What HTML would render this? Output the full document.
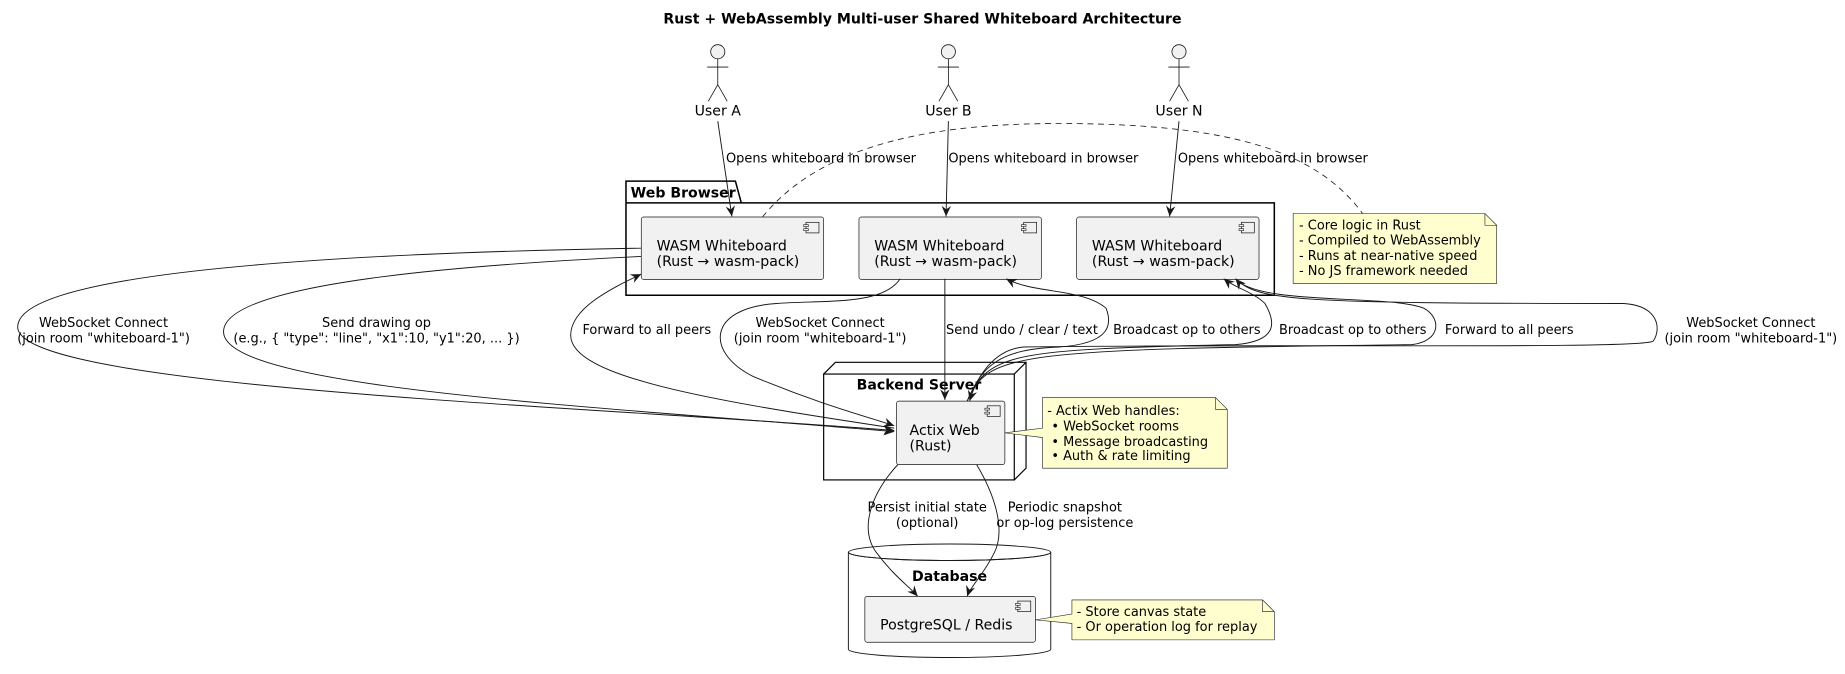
<!DOCTYPE html>
<html><head><meta charset="utf-8"><style>
html,body{margin:0;padding:0;background:#fff;}
svg{display:block;}
text{font-family:"DejaVu Sans","Liberation Sans",sans-serif;fill:#000;}
.l{font-size:11px;}
.c{font-size:12px;}
.b{font-size:12px;font-weight:bold;}
</style></head><body>
<svg width="1845" height="674" viewBox="0 0 1568 573" preserveAspectRatio="none" xmlns="http://www.w3.org/2000/svg">
<defs>
<marker id="a" markerWidth="10" markerHeight="10" refX="9" refY="5" orient="auto" markerUnits="userSpaceOnUse">
<path d="M0,1 L9,5 L0,9 L3,5 Z" fill="#181818"/>
</marker>
<g id="ci"><rect x="0" y="0" width="11" height="9" fill="#f1f1f1" stroke="#181818" stroke-width="0.6"/><rect x="-2" y="2" width="4" height="1.6" fill="#f1f1f1" stroke="#181818" stroke-width="0.5"/><rect x="-2" y="5.4" width="4" height="1.6" fill="#f1f1f1" stroke="#181818" stroke-width="0.5"/></g>
</defs>

<text x="784" y="20" class="b" text-anchor="middle">Rust + WebAssembly Multi-user Shared Whiteboard Architecture</text>

<!-- actors -->
<g stroke="#181818" stroke-width="0.7" fill="#f1f1f1">
<circle cx="610" cy="44" r="6"/><path d="M610,50 V72 M601,57 H619 M610,72 L602,86 M610,72 L618,86" fill="none"/>
<circle cx="806" cy="44" r="6"/><path d="M806,50 V72 M797,57 H815 M806,72 L798,86 M806,72 L814,86" fill="none"/>
<circle cx="1002" cy="44" r="6"/><path d="M1002,50 V72 M993,57 H1011 M1002,72 L994,86 M1002,72 L1010,86" fill="none"/>
</g>
<text x="610" y="98" class="c" text-anchor="middle">User A</text>
<text x="806" y="98" class="c" text-anchor="middle">User B</text>
<text x="1002" y="98" class="c" text-anchor="middle">User N</text>

<!-- package -->
<path d="M532,172.5 V154 H625 L630,172.5 H1083 V251 H532 Z" fill="none" stroke="#000" stroke-width="1.3"/>
<line x1="532" y1="172.5" x2="630" y2="172.5" stroke="#000" stroke-width="1.3"/>
<text x="536" y="168" class="b">Web Browser</text>

<g stroke="#181818" stroke-width="0.6" fill="#f1f1f1">
<rect x="545" y="184.5" width="155" height="53" rx="2"/>
<rect x="730" y="184.5" width="155" height="53" rx="2"/>
<rect x="915" y="184.5" width="155" height="53" rx="2"/>
</g>
<use href="#ci" x="685" y="189"/><use href="#ci" x="870" y="189"/><use href="#ci" x="1055" y="189"/>
<text class="c"><tspan x="558" y="213">WASM Whiteboard</tspan><tspan x="558" y="226">(Rust → wasm-pack)</tspan></text>
<text class="c"><tspan x="743" y="213">WASM Whiteboard</tspan><tspan x="743" y="226">(Rust → wasm-pack)</tspan></text>
<text class="c"><tspan x="928" y="213">WASM Whiteboard</tspan><tspan x="928" y="226">(Rust → wasm-pack)</tspan></text>

<!-- note 1 -->
<path d="M1099,181.5 H1262 L1272,191.5 V241 H1099 Z" fill="#fefece" stroke="#181818" stroke-width="0.5"/>
<path d="M1262,181.5 V191.5 H1272" fill="none" stroke="#181818" stroke-width="0.5"/>
<text class="l"><tspan x="1104" y="195">- Core logic in Rust</tspan><tspan x="1104" y="208">- Compiled to WebAssembly</tspan><tspan x="1104" y="221">- Runs at near-native speed</tspan><tspan x="1104" y="234">- No JS framework needed</tspan></text>
<path d="M648,184.5 C700,120 800,105 900,105 C1050,105 1120,130 1158,181.5" fill="none" stroke="#181818" stroke-width="0.7" stroke-dasharray="5,4"/>

<!-- backend node -->
<path d="M700,318 L710,308 H872 V398 L862,408" fill="none" stroke="#000" stroke-width="1"/>
<line x1="862" y1="318" x2="872" y2="308" stroke="#000" stroke-width="1"/>
<rect x="700" y="318" width="162" height="90" fill="none" stroke="#000" stroke-width="1"/>
<text x="781" y="331" class="b" text-anchor="middle">Backend Server</text>
<rect x="762" y="341" width="92" height="54" rx="2" fill="#f1f1f1" stroke="#181818" stroke-width="0.6"/>
<use href="#ci" x="839" y="345"/>
<text class="c"><tspan x="773" y="370">Actix Web</tspan><tspan x="773" y="383">(Rust)</tspan></text>

<!-- note 2 -->
<path d="M886,338 H1033 L1043,348 V398 H886 V372 L854,368 L886,364 Z" fill="#fefece" stroke="#181818" stroke-width="0.5"/>
<path d="M1033,338 V348 H1043" fill="none" stroke="#181818" stroke-width="0.5"/>
<text class="l"><tspan x="890" y="353">- Actix Web handles:</tspan><tspan x="890" y="366">  • WebSocket rooms</tspan><tspan x="890" y="379">  • Message broadcasting</tspan><tspan x="890" y="391">  • Auth &amp; rate limiting</tspan></text>
<text class="l" xml:space="preserve"><tspan x="890" y="366">   </tspan></text>

<!-- database -->
<path d="M721,469.5 V552 A86,7 0 0 0 893,552 V469.5" fill="none" stroke="#181818" stroke-width="0.8"/>
<ellipse cx="807" cy="469.5" rx="86" ry="7" fill="none" stroke="#181818" stroke-width="0.8"/>
<path d="M721,469.5 A86,7 0 0 0 893,469.5" fill="none" stroke="#181818" stroke-width="0.8"/>
<text x="807" y="494" class="b" text-anchor="middle">Database</text>
<rect x="735" y="507" width="145" height="39" rx="2" fill="#f1f1f1" stroke="#181818" stroke-width="0.6"/>
<use href="#ci" x="865" y="511"/>
<text x="748" y="535" class="c">PostgreSQL / Redis</text>

<!-- note 3 -->
<path d="M911,510 H1073 L1083,520 V544 H911 V530 L880,527 L911,522 Z" fill="#fefece" stroke="#181818" stroke-width="0.5"/>
<path d="M1073,510 V520 H1083" fill="none" stroke="#181818" stroke-width="0.5"/>
<text class="l"><tspan x="915" y="523.5">- Store canvas state</tspan><tspan x="915" y="536.5">- Or operation log for replay</tspan></text>

<!-- connectors -->
<g fill="none" stroke="#181818" stroke-width="0.8" marker-end="url(#a)">
<path d="M610,103 L622,184"/>
<path d="M806,103 L804,184"/>
<path d="M1002,103 L994,184"/>
<path d="M545,211 C300,215 15,230 15,278 C15,330 500,345 760,366"/>
<path d="M545,218 C400,225 190,240 190,282 C190,330 500,345 760,367"/>
<path d="M760,364 C600,340 485,320 485,285 C485,262 520,245 545,233"/>
<path d="M765,237 C750,260 700,255 660,258 C600,262 600,300 640,320 C700,345 740,355 760,362"/>
<path d="M803,237 L803,340"/>
<path d="M822,341 C835,310 850,297 900,295 C945,292 945,275 940,262 C920,245 880,250 855,237"/>
<path d="M822,341 C840,300 860,297 1050,293 C1085,290 1085,275 1075,258 C1065,248 1050,245 1040,237"/>
<path d="M822,341 C840,300 860,297 1200,293 C1225,290 1225,270 1210,262 C1180,250 1070,260 1050,237"/>
<path d="M1050,237 C1070,255 1090,258 1380,258 C1410,260 1412,280 1405,290 C1395,297 1100,292 870,295 C845,297 830,320 824,341"/>
<path d="M763,395 C740,420 730,450 745,470 C760,490 772,498 780,507"/>
<path d="M830,395 C845,420 855,450 845,470 C835,490 825,498 822,507"/>
</g>

<g class="l">
<text x="617" y="138">Opens whiteboard in browser</text>
<text x="806" y="138">Opens whiteboard in browser</text>
<text x="1001" y="138">Opens whiteboard in browser</text>
<text x="88" y="278" text-anchor="middle">WebSocket Connect</text>
<text x="88" y="291" text-anchor="middle">(join room "whiteboard-1")</text>
<text x="320" y="278" text-anchor="middle">Send drawing op</text>
<text x="320" y="291" text-anchor="middle">(e.g., { "type": "line", "x1":10, "y1":20, ... })</text>
<text x="495" y="284">Forward to all peers</text>
<text x="697" y="278" text-anchor="middle">WebSocket Connect</text>
<text x="697" y="291" text-anchor="middle">(join room "whiteboard-1")</text>
<text x="804" y="284">Send undo / clear / text</text>
<text x="946" y="284">Broadcast op to others</text>
<text x="1087" y="284">Broadcast op to others</text>
<text x="1228" y="284">Forward to all peers</text>
<text x="1488" y="278" text-anchor="middle">WebSocket Connect</text>
<text x="1488" y="291" text-anchor="middle">(join room "whiteboard-1")</text>
<text x="788" y="435" text-anchor="middle">Persist initial state</text>
<text x="788" y="448" text-anchor="middle">(optional)</text>
<text x="905" y="435" text-anchor="middle">Periodic snapshot</text>
<text x="905" y="448" text-anchor="middle">or op-log persistence</text>
</g>
</svg>
</body></html>
